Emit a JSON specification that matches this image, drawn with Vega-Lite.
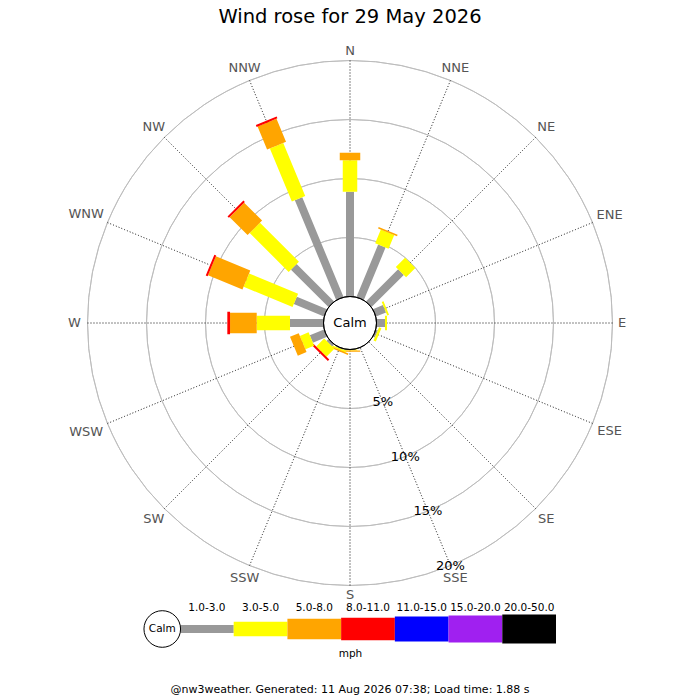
{
  "$schema": "https://vega.github.io/schema/vega-lite/v6.json",
  "padding": {"left": 0, "right": 0, "top": 6, "bottom": 0},
  "background": "white",
  "title": {"text": "Wind rose for 29 May 2026", "fontSize": 19.5, "fontWeight": "normal", "font": "DejaVu Sans", "color": "black", "anchor": "middle", "offset": 16},
  "config": {"view": {"stroke": null}, "font": "DejaVu Sans"},
  "datasets": {
    "rose": [
      {"dir": "N", "deg": 0, "band": "1.0-3.0", "i": 1, "pct": 8.88},
      {"dir": "N", "deg": 0, "band": "3.0-5.0", "i": 2, "pct": 2.66},
      {"dir": "N", "deg": 0, "band": "5.0-8.0", "i": 3, "pct": 0.65},
      {"dir": "NNE", "deg": 22.5, "band": "1.0-3.0", "i": 1, "pct": 4.81},
      {"dir": "NNE", "deg": 22.5, "band": "3.0-5.0", "i": 2, "pct": 1.26},
      {"dir": "NNE", "deg": 22.5, "band": "5.0-8.0", "i": 3, "pct": 0.13},
      {"dir": "NE", "deg": 45, "band": "1.0-3.0", "i": 1, "pct": 3.86},
      {"dir": "NE", "deg": 45, "band": "3.0-5.0", "i": 2, "pct": 1.11},
      {"dir": "ENE", "deg": 67.5, "band": "1.0-3.0", "i": 1, "pct": 0.92},
      {"dir": "ENE", "deg": 67.5, "band": "3.0-5.0", "i": 2, "pct": 0.16},
      {"dir": "E", "deg": 90, "band": "1.0-3.0", "i": 1, "pct": 0.72},
      {"dir": "E", "deg": 90, "band": "3.0-5.0", "i": 2, "pct": 0.17},
      {"dir": "ESE", "deg": 112.5, "band": "1.0-3.0", "i": 1, "pct": 0.17},
      {"dir": "ESE", "deg": 112.5, "band": "3.0-5.0", "i": 2, "pct": 0.21},
      {"dir": "S", "deg": 180, "band": "3.0-5.0", "i": 2, "pct": 0.08},
      {"dir": "S", "deg": 180, "band": "5.0-8.0", "i": 3, "pct": 0.12},
      {"dir": "SSW", "deg": 202.5, "band": "1.0-3.0", "i": 1, "pct": 0.08},
      {"dir": "SSW", "deg": 202.5, "band": "3.0-5.0", "i": 2, "pct": 0.12},
      {"dir": "SSW", "deg": 202.5, "band": "5.0-8.0", "i": 3, "pct": 0.12},
      {"dir": "SW", "deg": 225, "band": "1.0-3.0", "i": 1, "pct": 0.24},
      {"dir": "SW", "deg": 225, "band": "3.0-5.0", "i": 2, "pct": 0.95},
      {"dir": "SW", "deg": 225, "band": "8.0-11.0", "i": 4, "pct": 0.17},
      {"dir": "WSW", "deg": 247.5, "band": "1.0-3.0", "i": 1, "pct": 1.3},
      {"dir": "WSW", "deg": 247.5, "band": "3.0-5.0", "i": 2, "pct": 0.8},
      {"dir": "WSW", "deg": 247.5, "band": "5.0-8.0", "i": 3, "pct": 0.8},
      {"dir": "W", "deg": 270, "band": "1.0-3.0", "i": 1, "pct": 2.84},
      {"dir": "W", "deg": 270, "band": "3.0-5.0", "i": 2, "pct": 2.82},
      {"dir": "W", "deg": 270, "band": "5.0-8.0", "i": 3, "pct": 2.26},
      {"dir": "W", "deg": 270, "band": "8.0-11.0", "i": 4, "pct": 0.23},
      {"dir": "WNW", "deg": 292.5, "band": "1.0-3.0", "i": 1, "pct": 2.77},
      {"dir": "WNW", "deg": 292.5, "band": "3.0-5.0", "i": 2, "pct": 4.49},
      {"dir": "WNW", "deg": 292.5, "band": "5.0-8.0", "i": 3, "pct": 3.16},
      {"dir": "WNW", "deg": 292.5, "band": "8.0-11.0", "i": 4, "pct": 0.17},
      {"dir": "NW", "deg": 315, "band": "1.0-3.0", "i": 1, "pct": 4.49},
      {"dir": "NW", "deg": 315, "band": "3.0-5.0", "i": 2, "pct": 4.67},
      {"dir": "NW", "deg": 315, "band": "5.0-8.0", "i": 3, "pct": 2.15},
      {"dir": "NW", "deg": 315, "band": "8.0-11.0", "i": 4, "pct": 0.17},
      {"dir": "NNW", "deg": 337.5, "band": "1.0-3.0", "i": 1, "pct": 9.15},
      {"dir": "NNW", "deg": 337.5, "band": "3.0-5.0", "i": 2, "pct": 4.87},
      {"dir": "NNW", "deg": 337.5, "band": "5.0-8.0", "i": 3, "pct": 2.11},
      {"dir": "NNW", "deg": 337.5, "band": "8.0-11.0", "i": 4, "pct": 0.17}
    ],
    "dirs": [
      {"dir": "N", "deg": 0}, {"dir": "NNE", "deg": 22.5}, {"dir": "NE", "deg": 45}, {"dir": "ENE", "deg": 67.5},
      {"dir": "E", "deg": 90}, {"dir": "ESE", "deg": 112.5}, {"dir": "SE", "deg": 135}, {"dir": "SSE", "deg": 157.5},
      {"dir": "S", "deg": 180}, {"dir": "SSW", "deg": 202.5}, {"dir": "SW", "deg": 225}, {"dir": "WSW", "deg": 247.5},
      {"dir": "W", "deg": 270}, {"dir": "WNW", "deg": 292.5}, {"dir": "NW", "deg": 315}, {"dir": "NNW", "deg": 337.5}
    ],
    "rings": [
      {"r": 5, "label": "5%"}, {"r": 10, "label": "10%"}, {"r": 15, "label": "15%"}, {"r": 20, "label": "20%"}
    ],
    "bands": [
      {"band": "1.0-3.0", "i": 1}, {"band": "3.0-5.0", "i": 2}, {"band": "5.0-8.0", "i": 3}, {"band": "8.0-11.0", "i": 4},
      {"band": "11.0-15.0", "i": 5}, {"band": "15.0-20.0", "i": 6}, {"band": "20.0-50.0", "i": 7}
    ]
  },
  "spacing": 0,
  "center": true,
  "vconcat": [
    {
      "width": 700,
      "height": 560,
      "layer": [
        {
          "data": {"name": "rings"},
          "mark": {"type": "arc", "filled": false, "stroke": "#bbbbbb", "strokeWidth": 0.9},
          "encoding": {
            "theta": {"datum": 0, "type": "quantitative", "scale": {"type": "linear", "domain": [0, 360], "range": [0, 6.283185307179586]}},
            "theta2": {"datum": 360},
            "radius": {"field": "r", "type": "quantitative", "scale": {"type": "linear", "domain": [0, 20], "range": [26.5, 262.5]}},
            "radius2": {"field": "r"}
          }
        },
        {
          "data": {"name": "dirs"},
          "mark": {"type": "arc", "filled": false, "stroke": "#333333", "strokeWidth": 0.9, "strokeDash": [0.7, 2.3]},
          "encoding": {
            "theta": {"field": "deg", "type": "quantitative", "stack": null, "scale": {"type": "linear", "domain": [0, 360], "range": [0, 6.283185307179586]}},
            "theta2": {"field": "deg"},
            "radius": {"datum": 0, "type": "quantitative", "scale": {"type": "linear", "domain": [0, 20], "range": [26.5, 262.5]}},
            "radius2": {"datum": 20}
          }
        },
        {
          "data": {"name": "rose"},
          "transform": [{"stack": "pct", "groupby": ["dir"], "sort": [{"field": "i", "order": "ascending"}], "as": ["r0", "r1"]}],
          "mark": {"type": "arc", "filled": false, "strokeJoin": "bevel"},
          "encoding": {
            "theta": {"field": "deg", "type": "quantitative", "stack": null, "scale": {"type": "linear", "domain": [0, 360], "range": [0, 6.283185307179586]}},
            "theta2": {"field": "deg"},
            "radius": {"field": "r0", "type": "quantitative", "scale": {"type": "linear", "domain": [0, 20], "range": [26.5, 262.5]}},
            "radius2": {"field": "r1"},
            "stroke": {"field": "band", "type": "nominal", "legend": null, "scale": {"type": "ordinal", "domain": ["1.0-3.0", "3.0-5.0", "5.0-8.0", "8.0-11.0", "11.0-15.0", "15.0-20.0", "20.0-50.0"], "range": ["#999999", "#ffff00", "#ffa500", "#ff0000", "#0000ff", "#a020f0", "#000000"]}},
            "strokeWidth": {"field": "band", "type": "nominal", "legend": null, "scale": {"type": "ordinal", "domain": ["1.0-3.0", "3.0-5.0", "5.0-8.0", "8.0-11.0", "11.0-15.0", "15.0-20.0", "20.0-50.0"], "range": [8, 14.5, 20.5, 22.5, 25, 27, 29]}}
          }
        },
        {
          "data": {"values": [{"t": "Calm"}]},
          "mark": {"type": "arc", "fill": "white", "stroke": "black", "strokeWidth": 1},
          "encoding": {
            "theta": {"datum": 0, "type": "quantitative", "scale": {"type": "linear", "domain": [0, 360], "range": [0, 6.283185307179586]}},
            "theta2": {"datum": 360},
            "radius": {"datum": 0, "type": "quantitative", "scale": {"type": "linear", "domain": [0, 20], "range": [26.5, 262.5]}}
          }
        },
        {
          "data": {"values": [{"t": "Calm"}]},
          "mark": {"type": "text", "fontSize": 13, "font": "DejaVu Sans", "color": "black"},
          "encoding": {"text": {"field": "t"}}
        },
        {
          "data": {"name": "dirs"},
          "transform": [{"filter": {"field": "dir", "oneOf": ["N", "E", "S"]}}],
          "mark": {"type": "text", "fontSize": 13, "font": "DejaVu Sans", "color": "#555555"},
          "encoding": {
            "theta": {"field": "deg", "type": "quantitative", "stack": null, "scale": {"type": "linear", "domain": [0, 360], "range": [0, 6.283185307179586]}},
            "radius": {"datum": 20.81, "type": "quantitative", "scale": {"type": "linear", "domain": [0, 20], "range": [26.5, 262.5]}},
            "text": {"field": "dir"}
          }
        },
        {
          "data": {"name": "dirs"},
          "transform": [{"filter": {"field": "dir", "oneOf": ["NNE", "NNW", "SSE", "SSW", "W"]}}],
          "mark": {"type": "text", "fontSize": 13, "font": "DejaVu Sans", "color": "#555555"},
          "encoding": {
            "theta": {"field": "deg", "type": "quantitative", "stack": null, "scale": {"type": "linear", "domain": [0, 360], "range": [0, 6.283185307179586]}},
            "radius": {"datum": 21.1, "type": "quantitative", "scale": {"type": "linear", "domain": [0, 20], "range": [26.5, 262.5]}},
            "text": {"field": "dir"}
          }
        },
        {
          "data": {"name": "dirs"},
          "transform": [{"filter": {"field": "dir", "oneOf": ["NE", "NW", "SE", "SW"]}}],
          "mark": {"type": "text", "fontSize": 13, "font": "DejaVu Sans", "color": "#555555"},
          "encoding": {
            "theta": {"field": "deg", "type": "quantitative", "stack": null, "scale": {"type": "linear", "domain": [0, 360], "range": [0, 6.283185307179586]}},
            "radius": {"datum": 21.27, "type": "quantitative", "scale": {"type": "linear", "domain": [0, 20], "range": [26.5, 262.5]}},
            "text": {"field": "dir"}
          }
        },
        {
          "data": {"name": "dirs"},
          "transform": [{"filter": {"field": "dir", "oneOf": ["ENE", "ESE"]}}],
          "mark": {"type": "text", "fontSize": 13, "font": "DejaVu Sans", "color": "#555555"},
          "encoding": {
            "theta": {"field": "deg", "type": "quantitative", "stack": null, "scale": {"type": "linear", "domain": [0, 360], "range": [0, 6.283185307179586]}},
            "radius": {"datum": 21.57, "type": "quantitative", "scale": {"type": "linear", "domain": [0, 20], "range": [26.5, 262.5]}},
            "text": {"field": "dir"}
          }
        },
        {
          "data": {"name": "dirs"},
          "transform": [{"filter": {"field": "dir", "oneOf": ["WNW", "WSW"]}}],
          "mark": {"type": "text", "fontSize": 13, "font": "DejaVu Sans", "color": "#555555"},
          "encoding": {
            "theta": {"field": "deg", "type": "quantitative", "stack": null, "scale": {"type": "linear", "domain": [0, 360], "range": [0, 6.283185307179586]}},
            "radius": {"datum": 21.95, "type": "quantitative", "scale": {"type": "linear", "domain": [0, 20], "range": [26.5, 262.5]}},
            "text": {"field": "dir"}
          }
        },
        {
          "data": {"name": "rings"},
          "mark": {"type": "text", "fontSize": 13, "font": "DejaVu Sans", "color": "black"},
          "encoding": {
            "theta": {"datum": 157.5, "type": "quantitative", "scale": {"type": "linear", "domain": [0, 360], "range": [0, 6.283185307179586]}},
            "radius": {"field": "r", "type": "quantitative", "scale": {"type": "linear", "domain": [0, 20], "range": [26.5, 262.5]}},
            "text": {"field": "label"}
          }
        }
      ]
    },
    {
      "width": 412,
      "height": 30,
      "title": {"text": "@nw3weather. Generated: 11 Aug 2026 07:38; Load time: 1.88 s", "orient": "bottom", "anchor": "middle", "fontSize": 11, "fontWeight": "normal", "font": "DejaVu Sans", "color": "black", "offset": 25},
      "layer": [
        {
          "data": {"name": "bands"},
          "mark": {"type": "bar", "orient": "horizontal"},
          "encoding": {
            "x": {"aggregate": "count", "type": "quantitative", "stack": "zero", "scale": {"domain": [-0.67, 7], "nice": false, "zero": false}, "axis": {"title": "mph", "labels": false, "ticks": false, "domain": false, "grid": false, "titleFont": "DejaVu Sans", "titleFontSize": 10.5, "titleFontWeight": "normal", "titleColor": "black", "titlePadding": 4}},
            "color": {"field": "band", "type": "nominal", "legend": null, "scale": {"type": "ordinal", "domain": ["1.0-3.0", "3.0-5.0", "5.0-8.0", "8.0-11.0", "11.0-15.0", "15.0-20.0", "20.0-50.0"], "range": ["#999999", "#ffff00", "#ffa500", "#ff0000", "#0000ff", "#a020f0", "#000000"]}},
            "size": {"field": "band", "type": "nominal", "legend": null, "scale": {"type": "ordinal", "domain": ["1.0-3.0", "3.0-5.0", "5.0-8.0", "8.0-11.0", "11.0-15.0", "15.0-20.0", "20.0-50.0"], "range": [8, 14.5, 20.5, 22.5, 25, 27, 29]}},
            "order": {"field": "i", "type": "quantitative"}
          }
        },
        {
          "data": {"name": "bands"},
          "mark": {"type": "text", "dy": -21, "fontSize": 10.5, "font": "DejaVu Sans", "color": "black"},
          "encoding": {
            "x": {"aggregate": "count", "type": "quantitative", "stack": "zero", "bandPosition": 0.5, "axis": {"title": "mph", "labels": false, "ticks": false, "domain": false, "grid": false}},
            "detail": {"field": "band", "type": "nominal"},
            "order": {"field": "i", "type": "quantitative"},
            "text": {"field": "band", "type": "nominal"}
          }
        },
        {
          "data": {"values": [{"t": "Calm"}]},
          "mark": {"type": "point", "shape": "circle", "size": 1340, "fill": "white", "stroke": "black", "strokeWidth": 1, "opacity": 1},
          "encoding": {"x": {"datum": -0.33, "type": "quantitative", "axis": {"title": "mph", "labels": false, "ticks": false, "domain": false, "grid": false}}}
        },
        {
          "data": {"values": [{"t": "Calm"}]},
          "mark": {"type": "text", "fontSize": 10.5, "font": "DejaVu Sans", "color": "black"},
          "encoding": {
            "x": {"datum": -0.33, "type": "quantitative", "axis": {"title": "mph", "labels": false, "ticks": false, "domain": false, "grid": false}},
            "text": {"field": "t"}
          }
        }
      ]
    }
  ]
}
